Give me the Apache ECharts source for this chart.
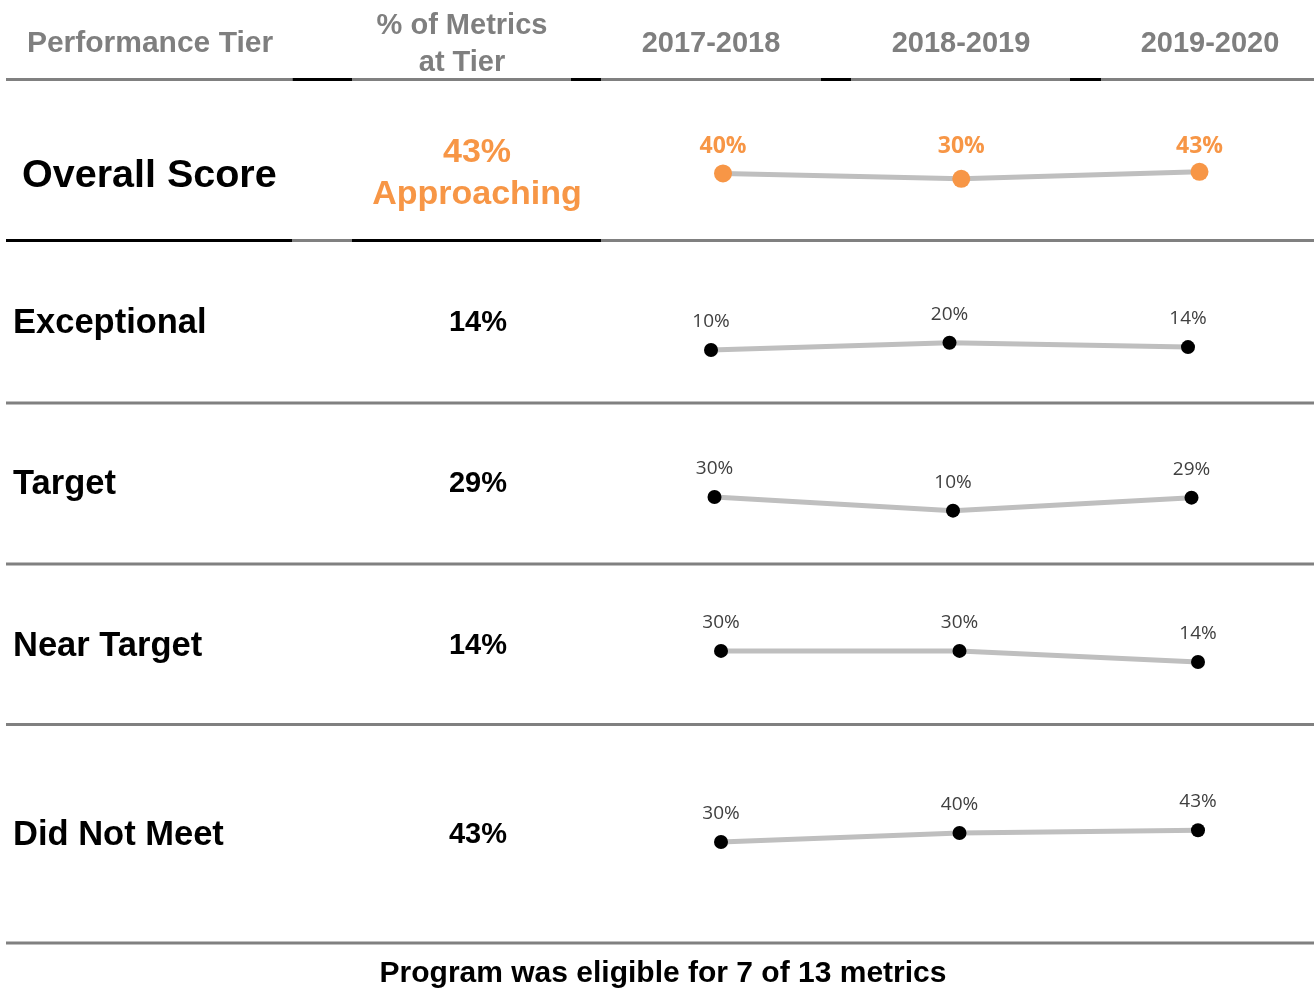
<!DOCTYPE html>
<html>
<head>
<meta charset="utf-8">
<script src="https://cdn.jsdelivr.net/npm/echarts@6/dist/echarts.min.js"></script>
<style>
html,body{margin:0;padding:0;background:#fff;}
#chart{width:1314px;height:996px;}
</style>
</head>
<body>
<div id="chart"></div>
<script>
// ---- data ----
const headerLabels = ['Performance Tier', '% of Metrics', 'at Tier'];
const years = ['2017-2018', '2018-2019', '2019-2020'];
const overallLabel = 'Overall Score';
const overallShare = '43%';
const overallLevel = 'Approaching';
const overallTrend = [40, 30, 43];
const tiers = ['Exceptional', 'Target', 'Near Target', 'Did Not Meet'];
const tierShares = ['14%', '29%', '14%', '43%'];
const exceptionalTrend = [10, 20, 14];
const targetTrend = [30, 10, 29];
const nearTargetTrend = [30, 30, 14];
const didNotMeetTrend = [30, 40, 43];
const footnote = 'Program was eligible for 7 of 13 metrics';

// ---- layout / style ----
const ORANGE = '#f79646';
const GRAY_TEXT = '#7f7f7f';
const GRAY_LINE = '#808080';
const SPARK_LINE = '#bfbfbf';
const FONT = '"Liberation Sans", Arial, sans-serif';
const LABEL_FONT = '"Open Sans", sans-serif';

const sparkRows = [
  {data: overallTrend, left: 723, width: 476.5, top: 141, height: 54, overall: true},
  {data: exceptionalTrend, left: 711, width: 477, top: 284.3, height: 73},
  {data: targetTrend, left: 714.5, width: 477, top: 449, height: 68.5},
  {data: nearTargetTrend, left: 721, width: 477, top: 602.6, height: 69},
  {data: didNotMeetTrend, left: 721, width: 477, top: 779, height: 90}
];
const tierY = [323, 484, 646, 835];

const grids = [], xAxes = [], yAxes = [], series = [];
sparkRows.forEach((r, i) => {
  grids.push({left: r.left, top: r.top, width: r.width, height: r.height, containLabel: false});
  xAxes.push({type: 'category', gridIndex: i, data: years, boundaryGap: false, show: false});
  yAxes.push({type: 'value', gridIndex: i, min: 0, max: 100, show: false});
  // overall row: labels sit on one common baseline (aligned to the highest point)
  const pxPerUnit = r.height / 100;
  const top = Math.max.apply(null, r.data);
  const seriesData = r.overall
    ? r.data.map(v => ({value: v, label: {offset: [0, (v - top) * pxPerUnit]}}))
    : r.data;
  series.push({
    type: 'line', xAxisIndex: i, yAxisIndex: i, data: seriesData,
    symbol: 'circle', symbolSize: r.overall ? 18 : 14,
    lineStyle: {color: SPARK_LINE, width: 5},
    itemStyle: {color: r.overall ? ORANGE : '#000'},
    label: {
      show: true, position: 'top', distance: r.overall ? 5 : 12,
      formatter: '{c}%',
      color: r.overall ? ORANGE : '#404040',
      fontFamily: LABEL_FONT,
      fontWeight: r.overall ? 'bold' : 'normal',
      fontSize: r.overall ? 23 : 19
    },
    silent: true, animation: false, z: 5
  });
});

function txt(text, x, y, size, color, align, weight) {
  return {type: 'text', silent: true, z: 10, style: {
    text: text, x: x, y: y, fill: color,
    fontSize: size, fontWeight: weight || 'bold', fontFamily: FONT,
    align: align || 'center', verticalAlign: 'middle'
  }};
}
function seg(x1, x2, y, color) {
  return {type: 'line', silent: true, z: 1,
    shape: {x1: x1, y1: y, x2: x2, y2: y},
    style: {stroke: color, lineWidth: 3}};
}

const graphics = [];
// header
graphics.push(txt(headerLabels[0], 150, 44, 30, GRAY_TEXT));
graphics.push(txt(headerLabels[1], 462, 26, 29, GRAY_TEXT));
graphics.push(txt(headerLabels[2], 462, 63, 29, GRAY_TEXT));
[711, 961, 1210].forEach((x, i) => graphics.push(txt(years[i], x, 44, 29, GRAY_TEXT)));
// header rule
graphics.push(seg(6, 292.5, 79.5, GRAY_LINE));
graphics.push(seg(292.5, 352, 79.5, '#000'));
graphics.push(seg(352, 571, 79.5, GRAY_LINE));
graphics.push(seg(571, 601, 79.5, '#000'));
graphics.push(seg(601, 821, 79.5, GRAY_LINE));
graphics.push(seg(821, 851, 79.5, '#000'));
graphics.push(seg(851, 1070, 79.5, GRAY_LINE));
graphics.push(seg(1070, 1101, 79.5, '#000'));
graphics.push(seg(1101, 1314, 79.5, GRAY_LINE));
// overall row
graphics.push(txt(overallLabel, 22, 176, 39.5, '#000', 'left'));
graphics.push(txt(overallShare, 477, 153, 34, ORANGE));
graphics.push(txt(overallLevel, 477, 195, 34, ORANGE));
graphics.push(seg(6, 292.5, 240.5, '#000'));
graphics.push(seg(292.5, 352, 240.5, GRAY_LINE));
graphics.push(seg(352, 601, 240.5, '#000'));
graphics.push(seg(601, 1314, 240.5, GRAY_LINE));
// tier rows
tiers.forEach((t, i) => {
  graphics.push(txt(t, 13, tierY[i], 34.5, '#000', 'left'));
  graphics.push(txt(tierShares[i], 478, tierY[i], 29, '#000'));
});
[403, 564, 724.5, 943].forEach(y => graphics.push(seg(6, 1314, y, GRAY_LINE)));
// footnote
graphics.push(txt(footnote, 663, 974, 30, '#000'));

const chart = echarts.init(document.getElementById('chart'));
chart.setOption({
  backgroundColor: '#fff',
  animation: false,
  grid: grids,
  xAxis: xAxes,
  yAxis: yAxes,
  series: series,
  graphic: graphics
});
</script>
</body>
</html>
